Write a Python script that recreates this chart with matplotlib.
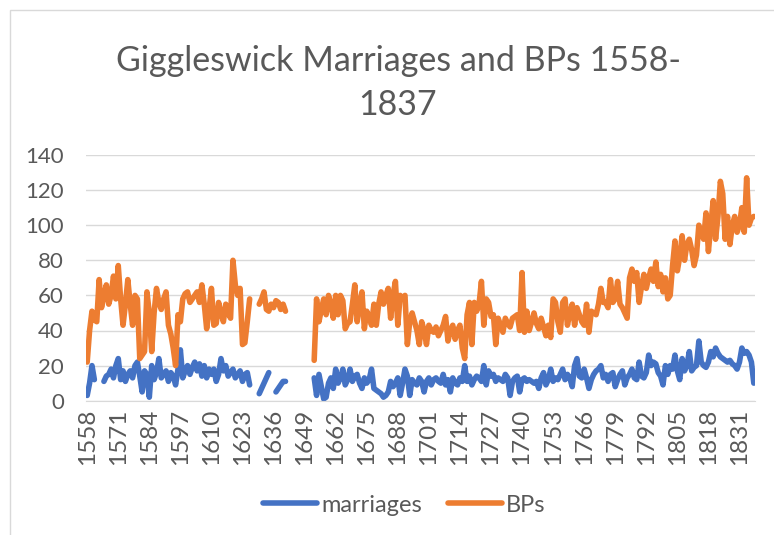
import numpy as np
import matplotlib
matplotlib.use('Agg')
import matplotlib.pyplot as plt
from matplotlib.patches import Rectangle

nan = np.nan

# yearly values 1558-1837, ten per row
years = list(range(1558, 1838))

marriages = [
    3, 10, 20, 12, nan, nan, nan, 11, 14, 15,        # 1558
    18, 13, 20, 24, 12, 17, 11, 15, 17, 13,          # 1568
    20, 22, 14, 5, 17, 15, 2, 20, 12, 16,            # 1578
    24, 13, 15, 17, 11, 16, 14, 9, 18, 29,           # 1588
    13, 17, 20, 15, 19, 22, 17, 21, 14, 20,          # 1598
    13, 18, 15, 18, 11, 15, 24, 17, 20, 14,          # 1608
    16, 18, 13, 15, 17, 11, 15, 16, 9, nan,          # 1618
    nan, nan, 4, 7, 10, 13, 16, nan, nan, 5,         # 1628
    7, 9, 11, 11, nan, nan, nan, nan, nan, nan,      # 1638
    nan, nan, nan, nan, nan, 13, 3, 15, 8, 1,        # 1648
    2, 10, 13, 7, 18, 10, 13, 18, 9, 12,             # 1658
    18, 11, 14, 15, 10, 7, 13, 10, 12, 18,           # 1668
    7, 6, 5, 4, 2, 3, 5, 11, 8, 10,                  # 1678
    13, 3, 10, 18, 14, 3, 12, 10, 9, 13,             # 1688
    11, 5, 11, 13, 9, 12, 13, 11, 10, 15,            # 1698
    9, 12, 5, 13, 10, 9, 13, 11, 20, 11,             # 1708
    14, 9, 12, 14, 13, 11, 20, 9, 17, 14,            # 1718
    15, 11, 13, 12, 11, 15, 13, 3, 11, 13,           # 1728
    14, 5, 12, 13, 11, 12, 11, 10, 11, 7,            # 1738
    13, 16, 9, 12, 18, 11, 13, 12, 15, 18,           # 1748
    12, 15, 13, 8, 20, 24, 14, 13, 18, 13,           # 1758
    7, 12, 15, 17, 18, 20, 13, 15, 11, 15,           # 1768
    16, 8, 12, 15, 17, 9, 13, 15, 18, 13,            # 1778
    12, 22, 14, 13, 16, 26, 20, 22, 21, 16,          # 1788
    14, 9, 20, 15, 20, 18, 26, 17, 12, 24,           # 1798
    17, 20, 28, 17, 19, 20, 34, 22, 20, 19,          # 1808
    22, 28, 25, 30, 27, 25, 24, 23, 22, 23,          # 1818
    21, 20, 18, 22, 30, 27, 28, 26, 22, 10,          # 1828
]

bps = [
    22, 40, 51, 46, 45, 69, 53, 60, 66, 55,          # 1558
    60, 71, 58, 77, 58, 43, 55, 69, 55, 43,          # 1568
    60, 58, 24, 26, 28, 62, 50, 28, 50, 64,          # 1578
    56, 52, 58, 62, 43, 38, 30, 20, 49, 45,          # 1588
    58, 61, 62, 56, 58, 60, 62, 56, 66, 55,          # 1598
    41, 52, 64, 43, 44, 56, 50, 45, 55, 50,          # 1608
    47, 80, 66, 60, 64, 32, 33, 45, 58, nan,         # 1618
    nan, nan, 55, 58, 62, 52, 51, 55, 53, 57,        # 1628
    56, 52, 55, 51, nan, nan, nan, nan, nan, nan,    # 1638
    nan, nan, nan, nan, nan, 23, 58, 45, 52, 58,     # 1648
    49, 60, 55, 47, 60, 49, 60, 57, 41, 44,          # 1658
    45, 55, 66, 45, 55, 62, 41, 51, 48, 43,          # 1668
    55, 43, 55, 62, 55, 60, 64, 47, 60, 68,          # 1678
    43, 60, 58, 60, 32, 45, 50, 45, 40, 32,          # 1688
    45, 40, 32, 43, 40, 39, 42, 37, 40, 43,          # 1698
    48, 34, 40, 43, 35, 40, 43, 30, 24, 49,          # 1708
    56, 32, 56, 51, 55, 68, 43, 58, 56, 48,          # 1718
    49, 32, 47, 43, 39, 47, 44, 42, 47, 48,          # 1728
    49, 40, 73, 39, 51, 40, 45, 50, 44, 41,          # 1738
    47, 42, 37, 43, 36, 58, 56, 45, 39, 56,          # 1748
    58, 43, 50, 55, 43, 53, 49, 45, 43, 55,          # 1758
    39, 51, 50, 49, 55, 64, 56, 56, 53, 69,          # 1768
    56, 58, 68, 55, 53, 50, 47, 70, 75, 68,          # 1778
    73, 56, 65, 72, 64, 70, 75, 68, 79, 65,          # 1788
    72, 62, 70, 58, 60, 77, 91, 74, 82, 94,          # 1798
    80, 89, 92, 86, 77, 83, 100, 96, 92, 107,        # 1808
    85, 100, 114, 92, 105, 125, 118, 92, 105, 89,    # 1818
    100, 105, 96, 100, 110, 96, 127, 100, 104, 105,  # 1828
]

title = 'Giggleswick Marriages and BPs 1558-\n1837'

TXT = '#595959'
GRID = '#d9d9d9'
plt.rcParams['font.family'] = ['Lato', 'DejaVu Sans']

fig = plt.figure(figsize=(7.74, 5.35), dpi=100)
W, H = 774.0, 535.0

# outer chart border
fig.patches.append(Rectangle((10 / W, -0.1), 1.2, 1 - 10 / H + 0.1,
                             transform=fig.transFigure, fill=False,
                             edgecolor=GRID, linewidth=1))

ax = fig.add_axes([86 / W, 1 - 400.7 / H, (755 - 86) / W, (400.7 - 155) / H])
x = np.arange(len(years))
ax.plot(x, marriages, color='#4472C4', linewidth=4, label='marriages',
        solid_capstyle='round', solid_joinstyle='round')
ax.plot(x, bps, color='#ED7D31', linewidth=4, label='BPs',
        solid_capstyle='round', solid_joinstyle='round')

ax.set_xlim(-0.5, len(years) - 0.5)
ax.set_ylim(0, 140)
ax.set_yticks(range(0, 141, 20))
ax.set_xticks(x[::13])
ax.set_xticklabels([str(y) for y in years[::13]], rotation=90)
ax.grid(axis='y', color=GRID, linewidth=1)
ax.set_axisbelow(True)
for s in ['top', 'right', 'left']:
    ax.spines[s].set_visible(False)
ax.spines['bottom'].set_color(GRID)
ax.tick_params(axis='both', length=0, labelcolor=TXT)
ax.tick_params(axis='y', pad=16, labelsize=16)
ax.tick_params(axis='x', pad=6, labelsize=17.5)

fig.text(398 / W, 1 - 83 / H, title, ha='center', va='center',
         fontsize=24.5, fontweight='normal', color=TXT, linespacing=1.45)

fig.legend(loc='center', bbox_to_anchor=(0.522, 1 - 505 / H), ncol=2,
           frameon=False, prop={'size': 17}, labelcolor=TXT,
           handlelength=2.3, handletextpad=0.15, columnspacing=1.1)

fig.savefig('out.png', dpi=100)
